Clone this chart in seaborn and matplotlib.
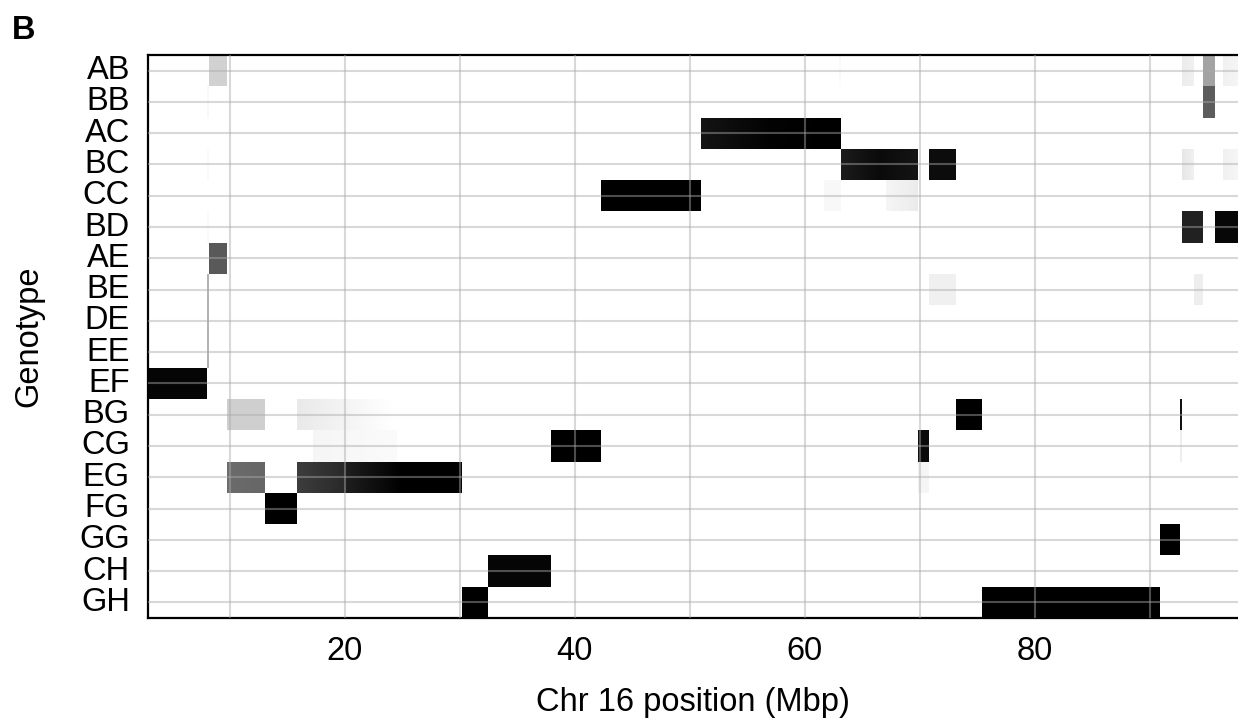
import numpy as np
import pandas as pd
import matplotlib
matplotlib.use("Agg")
import matplotlib.pyplot as plt
from matplotlib.colors import LinearSegmentedColormap
import seaborn as sns

# Genotype rows (top to bottom)
genotypes = ["AB", "BB", "AC", "BC", "CC", "BD", "AE", "BE", "DE",
             "EE", "EF", "BG", "CG", "EG", "FG", "GG", "CH", "GH"]

# Probability blocks along Chr 16: genotype, start / end (Mbp),
# probability at block start and at block end (linear in between)
seg_genotype = ["AB", "AB", "AB", "AB", "AB",
                "BB", "BB",
                "AC", "AC",
                "BC", "BC", "BC", "BC", "BC", "BC",
                "CC", "CC", "CC",
                "BD", "BD", "BD",
                "AE",
                "BE", "BE", "BE",
                "DE", "EE", "EF",
                "BG", "BG", "BG", "BG",
                "CG", "CG", "CG", "CG",
                "EG", "EG", "EG", "EG", "EG",
                "FG", "GG", "CH", "GH", "GH"]
seg_start = [8.17, 62.95, 92.78, 94.60, 96.35,
             8.00, 94.60,
             50.95, 57.00,
             8.00, 63.10, 66.50, 70.80, 92.78, 96.35,
             42.25, 61.60, 67.00,
             8.00, 92.78, 95.65,
             8.17,
             8.00, 70.80, 93.85,
             8.00, 8.00, 2.87,
             9.74, 15.80, 73.10, 92.60,
             17.20, 37.90, 69.80, 92.60,
             9.74, 15.80, 20.00, 25.00, 69.80,
             13.00, 90.87, 32.45, 30.15, 75.40]
seg_end = [9.74, 63.10, 93.85, 95.65, 97.65,
           8.17, 95.65,
           57.00, 63.10,
           8.17, 66.50, 69.80, 73.10, 93.85, 97.65,
           50.95, 63.10, 69.80,
           8.17, 94.60, 97.65,
           9.74,
           8.17, 73.10, 94.60,
           8.17, 8.17, 8.00,
           13.00, 24.50, 75.40, 92.78,
           24.50, 42.25, 70.80, 92.78,
           13.00, 20.00, 25.00, 30.15, 70.80,
           15.80, 92.60, 37.90, 32.45, 90.87]
seg_p_start = [0.18, 0.02, 0.08, 0.36, 0.06,
               0.03, 0.64,
               0.92, 0.99,
               0.02, 0.89, 0.96, 0.95, 0.10, 0.06,
               1.00, 0.03, 0.04,
               0.02, 0.87, 0.97,
               0.65,
               0.30, 0.06, 0.07,
               0.30, 0.30, 0.98,
               0.19, 0.09, 1.00, 0.93,
               0.04, 1.00, 0.96, 0.07,
               0.58, 0.76, 0.88, 1.00, 0.04,
               1.00, 1.00, 0.98, 1.00, 1.00]
seg_p_end = [0.18, 0.02, 0.06, 0.36, 0.04,
             0.03, 0.64,
             0.99, 1.00,
             0.02, 0.96, 0.92, 0.95, 0.06, 0.04,
             1.00, 0.03, 0.08,
             0.02, 0.87, 0.97,
             0.65,
             0.30, 0.06, 0.07,
             0.30, 0.30, 0.98,
             0.19, 0.00, 1.00, 0.93,
             0.02, 1.00, 0.96, 0.07,
             0.60, 0.84, 1.00, 1.00, 0.04,
             1.00, 1.00, 0.98, 1.00, 1.00]

chr_start, chr_end = 2.87, 97.65
bin_size = 0.05
major_ticks = [20, 40, 60, 80]
grid_positions = [10, 20, 30, 40, 50, 60, 70, 80, 90]

# Bin the chromosome and fill in the genotype probabilities
n_bins = int(round((chr_end - chr_start) / bin_size))
centers = chr_start + (np.arange(n_bins) + 0.5) * bin_size
prob = np.zeros((len(genotypes), n_bins))
for g, s, e, p0, p1 in zip(seg_genotype, seg_start, seg_end, seg_p_start, seg_p_end):
    row = genotypes.index(g)
    mask = (centers >= s) & (centers < e)
    frac = (centers[mask] - s) / (e - s)
    prob[row, mask] = np.maximum(prob[row, mask], p0 + (p1 - p0) * frac)

df = pd.DataFrame(prob, index=genotypes, columns=np.round(centers, 3))


def to_col(mbp):
    return (mbp - chr_start) / bin_size


sns.set_theme(style="white")
plt.rcParams["font.family"] = ["Liberation Sans", "DejaVu Sans"]

fs = 23.5
fig = plt.figure(figsize=(12.38, 7.28), dpi=100)
ax = fig.add_axes([148 / 1238, 1 - 618 / 728, 1 - 148 / 1238, (618 - 55) / 728])

cmap = LinearSegmentedColormap.from_list("white_black", ["white", "black"])
sns.heatmap(df, ax=ax, cmap=cmap, vmin=0, vmax=1, cbar=False,
            xticklabels=False, yticklabels=True, linewidths=0)

ax.set_xticks([to_col(v) for v in major_ticks], labels=[str(v) for v in major_ticks])
ax.set_xticks([to_col(v) for v in grid_positions], minor=True)
ax.set_yticks(np.arange(len(genotypes)) + 0.5, labels=genotypes)
for lbl in ax.get_yticklabels():
    lbl.set_rotation(0)

ax.set_axisbelow(False)
grid_kw = dict(color="#aaaaaa", alpha=0.45, linewidth=1.5)
ax.grid(True, which="both", axis="x", **grid_kw)
ax.grid(True, which="major", axis="y", **grid_kw)

ax.tick_params(axis="both", which="both", length=0, labelsize=fs, pad=13, colors="black")

for side in ["left", "top", "bottom"]:
    ax.spines[side].set_visible(True)
    ax.spines[side].set_color("black")
    ax.spines[side].set_linewidth(1.6)
ax.spines["right"].set_visible(False)

ax.set_xlabel("Chr 16 position (Mbp)", fontsize=fs, labelpad=14, color="black")
ax.set_ylabel("Genotype", fontsize=fs, labelpad=25, color="black")

fig.text(12 / 1238, 1 - 15 / 728, "B", fontsize=fs, fontweight="bold",
         ha="left", va="top", color="black")

fig.savefig("out.png", dpi=100)
